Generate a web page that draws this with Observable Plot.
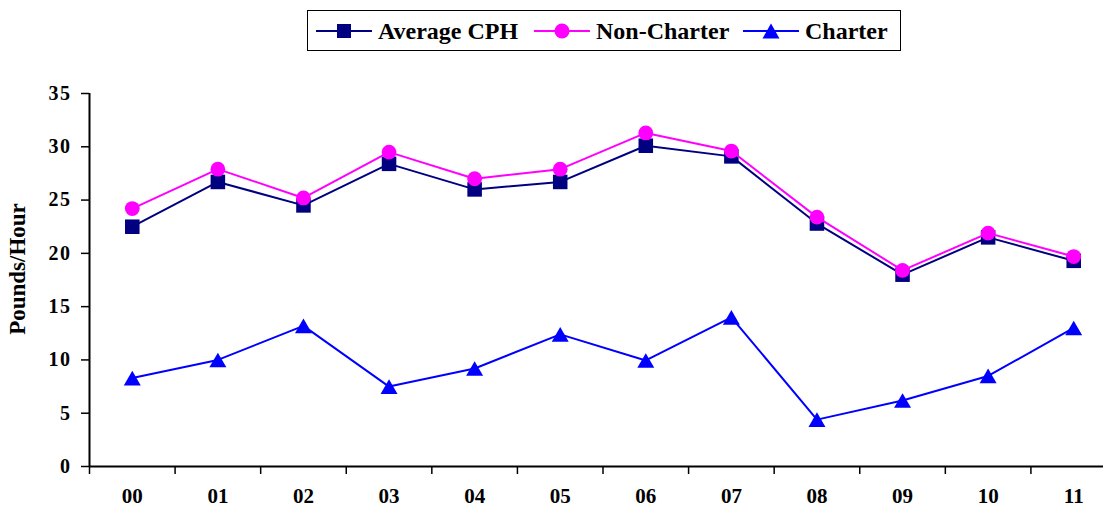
<!DOCTYPE html>
<html><head><meta charset="utf-8">
<script src="https://cdn.jsdelivr.net/npm/d3@7"></script>
<script src="https://cdn.jsdelivr.net/npm/@observablehq/plot@0.6"></script>
<style>
html,body{margin:0;padding:0;background:#fff;overflow:hidden;}
#wrap{position:relative;width:1103px;height:508px;font-family:'Liberation Serif','Times New Roman',serif;font-weight:bold;color:#000;}
#legendBox{position:absolute;left:307px;top:10px;width:594px;height:41px;border:1.5px solid #000;box-sizing:border-box;}
.item{position:absolute;top:10px;height:41px;display:flex;align-items:center;}
.lbl{font-size:24px;line-height:1;white-space:nowrap;}
#chart{position:absolute;left:0;top:60px;}
g[aria-label="y-axis tick label"] text{letter-spacing:1.5px;}
</style></head>
<body><div id="wrap"><div id="legendBox"></div><div id="chart"></div></div>
<script>
const years = ["00","01","02","03","04","05","06","07","08","09","10","11"];
const avgCPH = [22.5, 26.7, 24.5, 28.4, 26.0, 26.7, 30.1, 29.1, 22.8, 18.0, 21.5, 19.3];
const nonCharter = [24.2, 27.9, 25.2, 29.5, 27.0, 27.9, 31.3, 29.6, 23.4, 18.4, 21.9, 19.7];
const charter = [8.3, 10.0, 13.2, 7.5, 9.2, 12.4, 9.95, 14.0, 4.4, 6.2, 8.5, 13.0];
const yTicks = [0, 5, 10, 15, 20, 25, 30, 35];
const seriesNames = ["Average CPH", "Non-Charter", "Charter"];
const seriesColors = ["#000080", "#FF00FF", "#0000FF"];
const seriesSymbols = ["square", "circle", "triangle"];
const yLabel = "Pounds/Hour";

const data = years.map((y, i) => ({year: y, pos: i + 0.5, avg: avgCPH[i], nc: nonCharter[i], ch: charter[i]}));

// Legend
const wrap = document.getElementById("wrap");
const swatchLeft = [316, 534, 743];
const textLeft = [378, 596, 805];
seriesNames.forEach((name, i) => {
  const sw = document.createElement("div");
  sw.className = "item";
  sw.style.left = swatchLeft[i] + "px";
  let marker = "";
  if (seriesSymbols[i] === "square") marker = `<rect x="21" y="3" width="14" height="14" fill="${seriesColors[i]}"/>`;
  else if (seriesSymbols[i] === "circle") marker = `<circle cx="28" cy="10" r="7.5" fill="${seriesColors[i]}"/>`;
  else marker = `<path d="M28,2.5L36.5,17.5L19.5,17.5Z" fill="${seriesColors[i]}"/>`;
  sw.innerHTML = `<svg width="56" height="20"><line x1="0" x2="56" y1="10" y2="10" stroke="${seriesColors[i]}" stroke-width="2"/>${marker}</svg>`;
  wrap.appendChild(sw);
  const tx = document.createElement("div");
  tx.className = "item";
  tx.style.left = textLeft[i] + "px";
  tx.innerHTML = `<span class="lbl">${name}</span>`;
  wrap.appendChild(tx);
});

const plot = Plot.plot({
  width: 1103,
  height: 448,
  marginTop: 33,
  marginBottom: 42,
  marginLeft: 89,
  marginRight: 0,
  style: {fontFamily: "'Liberation Serif','Times New Roman',serif", fontWeight: "bold", color: "#000", background: "#fff", overflow: "hidden"},
  x: {domain: [0, 12], range: [89, 1116]},
  y: {domain: [0, 35]},
  marks: [
    Plot.axisY({ticks: yTicks, tickSize: 8, tickPadding: 10, fontSize: 20, strokeWidth: 1.5, label: null}),
    Plot.axisX({ticks: d3.range(13), tickSize: 8, tickFormat: () => "", strokeWidth: 1.5, label: null}),
    Plot.axisX({ticks: data.map(d => d.pos), tickSize: 0, tickPadding: 22, tickFormat: d => years[Math.floor(d)], fontSize: 21, label: null}),
    Plot.ruleX([0], {y1: 0, y2: 35, stroke: "#000", strokeWidth: 2}),
    Plot.ruleY([0], {stroke: "#000", strokeWidth: 2}),
    Plot.text([yLabel], {text: d => d, frameAnchor: "left", textAnchor: "middle", rotate: -90, dx: -71.5, dy: -11, fontSize: 23, fontWeight: "bold"}),
    Plot.line(data, {x: "pos", y: "ch", stroke: seriesColors[2], strokeWidth: 2}),
    Plot.dot(data, {x: "pos", y: "ch", symbol: "triangle", r: 6.3, fill: seriesColors[2], dy: 2.5}),
    Plot.line(data, {x: "pos", y: "avg", stroke: seriesColors[0], strokeWidth: 2}),
    Plot.dot(data, {x: "pos", y: "avg", symbol: "square", r: 8.2, fill: seriesColors[0]}),
    Plot.line(data, {x: "pos", y: "nc", stroke: seriesColors[1], strokeWidth: 2}),
    Plot.dot(data, {x: "pos", y: "nc", symbol: "circle", r: 7.4, fill: seriesColors[1]})
  ]
});
document.getElementById("chart").appendChild(plot);
</script>
</body></html>
